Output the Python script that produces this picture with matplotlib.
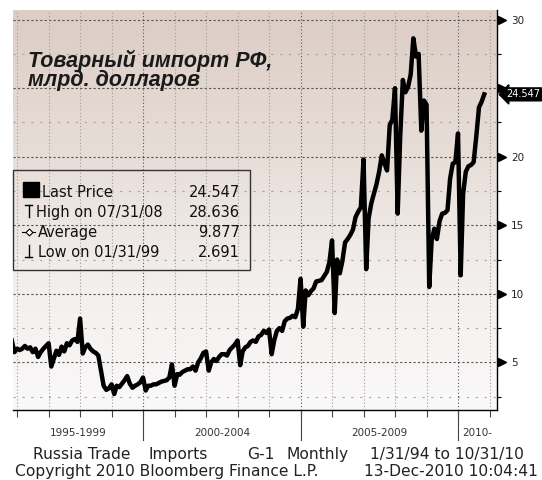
import numpy as np
import pandas as pd
import matplotlib
matplotlib.use('Agg')
import matplotlib.pyplot as plt
import matplotlib.dates as mdates
from matplotlib.patches import Rectangle
from matplotlib.lines import Line2D
from matplotlib.colors import LinearSegmentedColormap
from matplotlib.ticker import NullLocator

W, H = 542, 480

# Russia trade imports, bn USD, month-end values from 10/31/95 to 10/31/10
imp_1995 = [6.6, 5.75]
imp_1996 = [6.0, 5.9, 6.0, 6.2, 6.0, 6.1, 5.75, 6.0, 5.4, 5.75, 6.0, 6.2]
imp_1997 = [6.4, 4.7, 5.25, 5.85, 5.55, 6.15, 5.8, 6.4, 6.25, 6.6, 6.7, 6.5]
imp_1998 = [8.2, 5.65, 6.1, 6.3, 6.0, 5.8, 5.7, 5.5, 4.4, 3.3, 3.0, 3.1]
imp_1999 = [3.4, 2.691, 3.3, 3.2, 3.45, 3.7, 4.0, 3.45, 3.15, 3.3, 3.4, 3.55]
imp_2000 = [3.9, 2.95, 3.3, 3.3, 3.4, 3.4, 3.5, 3.6, 3.65, 3.7, 3.9, 4.85]
imp_2001 = [3.3, 4.15, 4.1, 4.3, 4.4, 4.5, 4.5, 4.7, 4.4, 5.0, 5.3, 5.7]
imp_2002 = [5.8, 4.4, 5.0, 5.25, 5.1, 5.4, 5.6, 5.6, 5.5, 5.9, 6.1, 6.3]
imp_2003 = [6.6, 4.8, 5.8, 6.1, 6.2, 6.5, 6.6, 6.5, 6.9, 7.0, 7.3, 7.15]
imp_2004 = [7.4, 5.6, 6.6, 7.3, 7.5, 7.3, 8.0, 8.2, 8.25, 8.4, 8.3, 8.9]
imp_2005 = [11.1, 7.6, 10.25, 9.9, 10.2, 10.4, 10.9, 10.95, 11.0, 11.3, 11.6, 12.3]
imp_2006 = [13.9, 8.6, 12.5, 11.5, 12.4, 13.75, 14.0, 14.3, 14.7, 15.6, 16.0, 16.3]
imp_2007 = [19.8, 11.8, 15.5, 16.6, 17.3, 18.0, 18.9, 20.1, 19.5, 19.0, 22.3, 22.7]
imp_2008 = [25.0, 15.85, 21.4, 25.6, 24.7, 25.1, 26.0, 28.636, 27.3, 27.5, 21.9, 24.1]
imp_2009 = [23.8, 10.5, 13.9, 14.75, 14.0, 15.3, 15.85, 15.9, 16.1, 18.4, 19.5, 19.6]
imp_2010 = [21.7, 11.35, 17.3, 18.9, 19.3, 19.4, 19.6, 21.5, 23.6, 24.0, 24.547]

imports = (imp_1995 + imp_1996 + imp_1997 + imp_1998 + imp_1999 + imp_2000 + imp_2001
           + imp_2002 + imp_2003 + imp_2004 + imp_2005 + imp_2006 + imp_2007 + imp_2008
           + imp_2009 + imp_2010)
dates = pd.date_range('1995-10-31', periods=len(imports), freq='ME')

y_major = [5, 10, 15, 20, 25, 30]
y_minor = [2.5, 7.5, 12.5, 17.5, 22.5, 27.5]
periods = ['1995-1999', '2000-2004', '2005-2009', '2010-']
period_starts = ['1995-01-01', '2000-01-01', '2005-01-01', '2010-01-01', '2015-01-01']
legend_labels = ['Last Price', 'High on 07/31/08', 'Average', 'Low on 01/31/99']
legend_values = ['24.547', '28.636', '9.877', '2.691']
last_price = 24.547

fig = plt.figure(figsize=(W / 100, H / 100), dpi=100)


def fx(x):
    return x / W


def fy(y):
    return 1 - y / H


def seg(xs, ys, **kw):
    fig.add_artist(Line2D([fx(v) for v in xs], [fy(v) for v in ys],
                          transform=fig.transFigure, **kw))


ax = fig.add_axes([fx(13), fy(410), 484 / W, 400 / H])
x0, x1 = pd.Timestamp('1995-11-14'), pd.Timestamp('2011-03-28')
y0, y1 = 1.53, 30.7

# background gradient
cmap = LinearSegmentedColormap.from_list('bg', ['#faf9f9', '#f2eeec', '#e6dcd6', '#dccdc5'])
grad = np.linspace(0, 1, 256).reshape(-1, 1)
ax.imshow(grad, aspect='auto', cmap=cmap, origin='lower',
          extent=[mdates.date2num(x0), mdates.date2num(x1), y0, y1], zorder=0)

# grid
for v in y_major:
    ax.axhline(v, color='#555555', lw=0.8, ls=(0, (2, 2)), zorder=1)
for v in y_minor:
    ax.axhline(v, color='#aaa29e', lw=0.8, ls=(0, (2, 6)), zorder=1)
years = pd.date_range('1996-01-01', '2011-01-01', freq='YS')
for d in years:
    ax.axvline(d, color='#555555' if d.year % 5 == 0 else '#a39b97', lw=0.8,
               ls=(0, (1, 2)), zorder=1)

ax.plot(dates, imports, color='black', lw=3.2, zorder=3)

ax.set_xlim(x0, x1)
ax.set_ylim(y0, y1)

for s in ['left', 'top']:
    ax.spines[s].set_visible(False)
ax.spines['right'].set_linewidth(1)
ax.spines['bottom'].set_linewidth(1)

ax.yaxis.tick_right()
ax.set_yticks(y_major)
# the 25 label sits under the last-price tag
ax.set_yticklabels(['' if v == 25 else str(v) for v in y_major])
ax.set_yticks(y_minor, minor=True)
ax.tick_params(axis='y', which='major', length=0, pad=10, labelsize=7.5, labelcolor='#222222')
ax.tick_params(axis='y', which='minor', length=3, width=0.8, color='black')
ax.set_xticks(years)
ax.set_xticklabels([])
ax.xaxis.set_minor_locator(NullLocator())
ax.tick_params(axis='x', length=5, width=0.8, color='#444444')

# triangle markers on major y ticks
ax.plot([1.01] * len(y_major), y_major, transform=ax.get_yaxis_transform(), ls='none',
        marker='>', ms=6, color='black', clip_on=False, zorder=5)

# last price tag
ax.text(1.0 + 9 / 484, last_price, '24.547', transform=ax.get_yaxis_transform(),
        color='white', fontsize=7, ha='left', va='center', clip_on=False, zorder=6,
        bbox=dict(boxstyle='larrow,pad=0.15', fc='black', ec='black'))

# period separators and labels
xt = ax.get_xaxis_transform()
for d in period_starts[1:4]:
    ax.plot([pd.Timestamp(d)] * 2, [0, -0.075], transform=xt, color='#444444', lw=0.8,
            clip_on=False)
for lab, a, b in zip(periods, period_starts[:-1], period_starts[1:]):
    lo = max(mdates.date2num(pd.Timestamp(a)), mdates.date2num(x0))
    hi = min(mdates.date2num(pd.Timestamp(b)), mdates.date2num(x1))
    ax.text((lo + hi) / 2, -0.057, lab, transform=xt, ha='center', va='center',
            fontsize=7.5, color='#333333')

# title
title_font = dict(family='Liberation Sans', fontsize=15.5, fontweight='bold',
                  fontstyle='italic', color='#1a1a1a')
fig.text(fx(28), fy(67), 'Товарный импорт РФ,', va='baseline', **title_font)
fig.text(fx(28), fy(86), 'млрд. долларов', va='baseline', **title_font)

# legend box
fig.add_artist(Rectangle((fx(13), fy(270)), 237 / W, 100 / H, transform=fig.transFigure,
                         fill=False, ec='#333333', lw=1))
baselines = [197, 217, 237, 257]
lx = [42, 36, 38, 38]
for lab, val, b, x in zip(legend_labels, legend_values, baselines, lx):
    fig.text(fx(x), fy(b), lab, fontsize=10.5, va='baseline', color='#111111')
    fig.text(fx(240), fy(b), val, fontsize=10.5, va='baseline', ha='right', color='#111111')
fig.add_artist(Rectangle((fx(23), fy(197)), 16 / W, 15 / H, transform=fig.transFigure,
                         fc='black', ec='black'))
# high / low symbols
seg([25, 32], [205, 205], color='black', lw=1)
seg([28.5, 28.5], [205, 217], color='black', lw=1)
seg([28.5, 28.5], [245, 257], color='black', lw=1)
seg([25, 32], [257, 257], color='black', lw=1)
# average symbol
seg([22, 35], [232, 232], color='black', lw=0.8)
seg([28.5], [232], marker='D', ms=3.5, mfc='white', mec='black', mew=0.8)

# footer
foot = dict(fontsize=11.2, color='#222222', va='baseline')
fig.text(fx(33), fy(459), 'Russia Trade', **foot)
fig.text(fx(148), fy(459), 'Imports', **foot)
fig.text(fx(247), fy(459), 'G-1', **foot)
fig.text(fx(286), fy(459), 'Monthly', **foot)
fig.text(fx(524), fy(459), '1/31/94 to 10/31/10', ha='right', **foot)
fig.text(fx(15), fy(476), 'Copyright 2010 Bloomberg Finance L.P.', **foot)
fig.text(fx(538), fy(476), '13-Dec-2010 10:04:41', ha='right', **foot)

fig.savefig('out.png', dpi=100)
